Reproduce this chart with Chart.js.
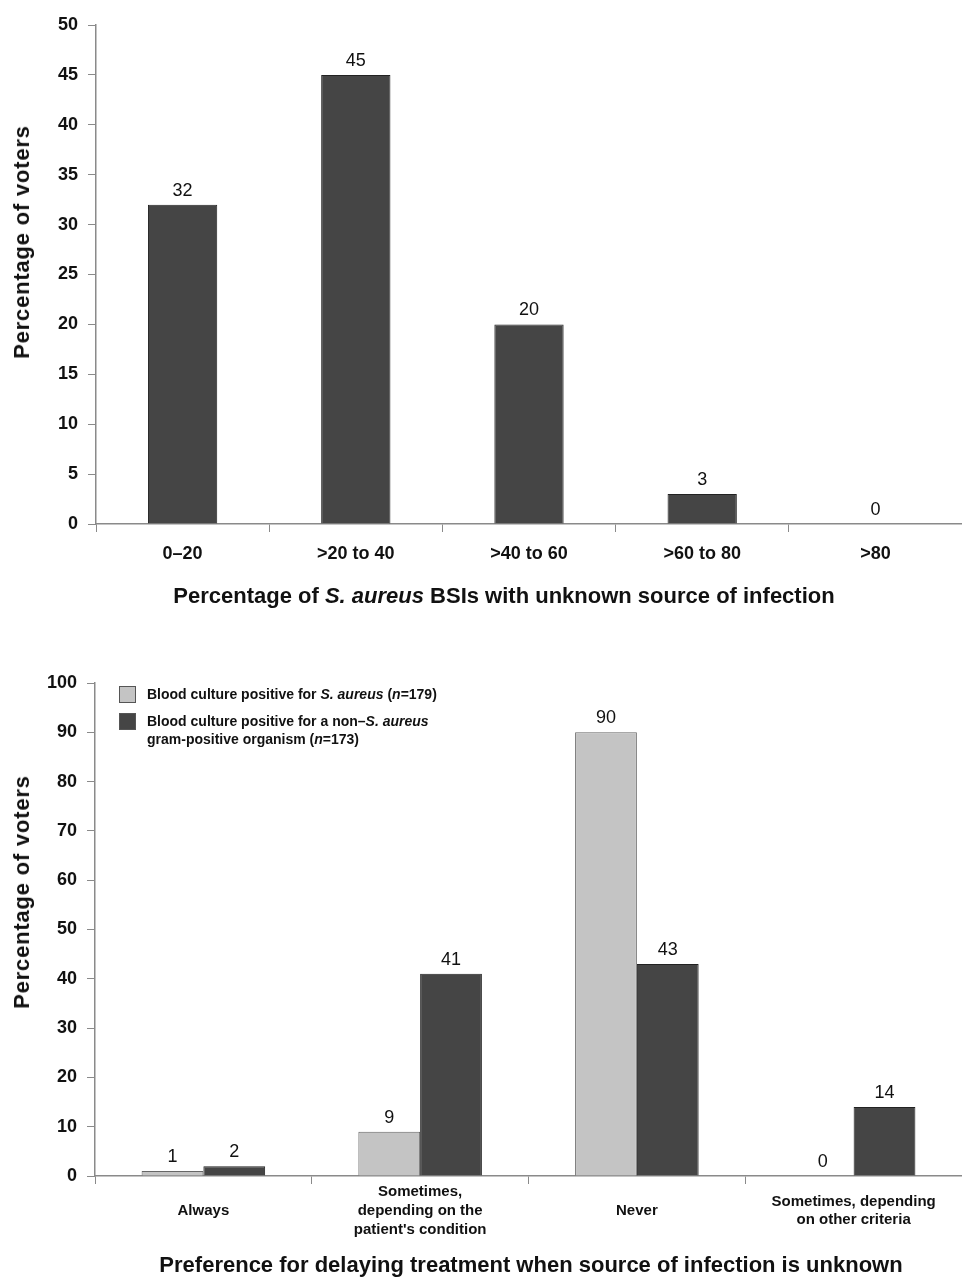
<!DOCTYPE html>
<html>
<head>
<meta charset="utf-8">
<script src="https://cdn.jsdelivr.net/npm/chart.js@4.4.1/dist/chart.umd.min.js"></script>
<style>
  body { margin: 0; background: #fff; font-family: "Liberation Sans", Arial, sans-serif; color: #111; }
  #page { position: relative; width: 962px; height: 1281px; overflow: hidden; }
  canvas { position: absolute; left: 0; }
  #topChart { top: 0; }
  #botChart { top: 640px; }
  .xtitle { position: absolute; font-weight: bold; font-size: 22px; white-space: nowrap; transform: translateX(-50%); }
  .ytitle { position: absolute; left: 22px; font-weight: bold; font-size: 22px; letter-spacing: 0.8px; white-space: nowrap; transform: translate(-50%, -50%) rotate(-90deg); }
  #legend { position: absolute; left: 119px; top: 685px; font-weight: bold; font-size: 14px; line-height: 18px; }
  .item { position: relative; padding-left: 28px; margin-bottom: 9px; }
  .sw { position: absolute; left: 0; top: 1px; width: 17px; height: 17px; box-sizing: border-box; border: 1px solid #555; }
</style>
</head>
<body>
<div id="page">
  <canvas id="topChart" width="962" height="640"></canvas>
  <canvas id="botChart" width="962" height="641"></canvas>
  <div class="ytitle" style="top:242px;">Percentage of voters</div>
  <div class="ytitle" style="top:892px;">Percentage of voters</div>
  <div class="xtitle" style="left:504px;top:583px;">Percentage of <i>S. aureus</i> BSIs with unknown source of infection</div>
  <div class="xtitle" style="left:531px;top:1252px;">Preference for delaying treatment when source of infection is unknown</div>
  <div id="legend">
    <div class="item"><span class="sw" style="background:#c4c4c4"></span>Blood culture positive for <i>S. aureus</i> (<i>n</i>=179)</div>
    <div class="item"><span class="sw" style="background:#454545"></span>Blood culture positive for a non–<i>S. aureus</i><br>gram-positive organism (<i>n</i>=173)</div>
  </div>
</div>
<script>
// top chart data
const topCategories = ['0–20', '>20 to 40', '>40 to 60', '>60 to 80', '>80'];
const topValues = [32, 45, 20, 3, 0];

// bottom chart data
const botCategories = [
  ['Always'],
  ['Sometimes,', 'depending on the', "patient's condition"],
  ['Never'],
  ['Sometimes, depending', 'on other criteria']
];
const saureusValues = [1, 9, 90, 0];
const nonSaureusValues = [2, 41, 43, 14];
const saureusLabel = 'Blood culture positive for S. aureus (n=179)';
const nonSaureusLabel = 'Blood culture positive for a non–S. aureus gram-positive organism (n=173)';

const DARK = '#454545';
const LIGHT = '#c4c4c4';
const AXIS = '#8a8a8a';
const FONT = "'Liberation Sans', Arial, sans-serif";

// writes the value above each bar
const valueLabels = {
  id: 'valueLabels',
  afterDatasetsDraw(chart) {
    const ctx = chart.ctx;
    ctx.save();
    ctx.font = '18px ' + FONT;
    ctx.fillStyle = '#111';
    ctx.textAlign = 'center';
    ctx.textBaseline = 'bottom';
    chart.data.datasets.forEach((ds, i) => {
      chart.getDatasetMeta(i).data.forEach((bar, j) => {
        ctx.fillText(ds.data[j], bar.x, bar.y - 5);
      });
    });
    ctx.restore();
  }
};

function makeOptions(max, step, xFontSize, xPad, xHeight, yWidth, topPad) {
  return {
    responsive: false,
    animation: false,
    layout: { padding: { top: topPad, right: 0, left: 0, bottom: 0 } },
    plugins: { legend: { display: false }, tooltip: { enabled: false } },
    scales: {
      x: {
        grid: { drawOnChartArea: false, drawTicks: true, tickLength: 8, color: AXIS, offset: true },
        border: { color: AXIS, width: 1.5 },
        ticks: { color: '#111', font: { family: FONT, size: xFontSize, weight: 'bold', lineHeight: 1.25 }, padding: xPad, crossAlign: 'center', maxRotation: 0, autoSkip: false },
        afterFit: s => { s.height = xHeight; }
      },
      y: {
        min: 0, max: max,
        grid: { drawOnChartArea: false, drawTicks: true, tickLength: 8, color: AXIS },
        border: { color: AXIS, width: 1.5 },
        ticks: { stepSize: step, color: '#111', font: { family: FONT, size: 18, weight: 'bold' }, padding: 10 },
        afterFit: s => { s.width = yWidth; }
      }
    }
  };
}

new Chart(document.getElementById('topChart'), {
  type: 'bar',
  data: {
    labels: topCategories,
    datasets: [{
      label: 'Percentage of voters',
      data: topValues,
      backgroundColor: DARK,
      borderColor: '#222',
      borderWidth: 1,
      categoryPercentage: 1,
      barPercentage: 0.40
    }]
  },
  options: makeOptions(50, 5, 18, 22, 116, 96, 25),
  plugins: [valueLabels]
});

new Chart(document.getElementById('botChart'), {
  type: 'bar',
  data: {
    labels: botCategories,
    datasets: [
      { label: saureusLabel, data: saureusValues, backgroundColor: LIGHT, borderColor: '#666', borderWidth: 1, categoryPercentage: 0.57, barPercentage: 1 },
      { label: nonSaureusLabel, data: nonSaureusValues, backgroundColor: DARK, borderColor: '#222', borderWidth: 1, categoryPercentage: 0.57, barPercentage: 1 }
    ]
  },
  options: makeOptions(100, 10, 15, 8, 105, 95, 43),
  plugins: [valueLabels]
});
</script>
</body>
</html>
